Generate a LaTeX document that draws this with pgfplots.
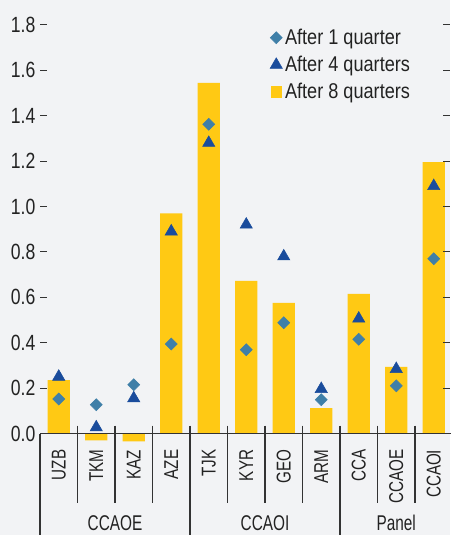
\documentclass[border=0pt]{standalone}
\usepackage{pgfplots}
\pgfplotsset{compat=1.18}
\usetikzlibrary{backgrounds}
\usepackage{fontspec}
\setmainfont{Liberation Sans}[FakeStretch=0.8]
\newfontfamily\legfont{Liberation Sans}[FakeStretch=0.85]
\newfontfamily\capfont{Liberation Sans}[FakeStretch=0.76]
\newfontfamily\grpfont{Liberation Sans}[FakeStretch=0.72]
\definecolor{bg}{HTML}{F2F3F5}
\definecolor{barcol}{HTML}{FFC914}
\definecolor{diacol}{HTML}{3F7FA8}
\definecolor{tricol}{HTML}{1A4C9C}
\definecolor{txt}{HTML}{222222}
\definecolor{lin}{HTML}{333333}
\begin{document}
\begin{tikzpicture}
\begin{axis}[
  x=28.125pt, y=170.25pt,
  xmin=-0.5, xmax=10.5, ymin=0, ymax=1.9,
  clip=false,
  axis line style={draw=none},
  ytick={0,0.2,0.4,0.6,0.8,1.0,1.2,1.4,1.6,1.8},
  ytick pos=left,
  yticklabel style={font=\fontsize{16.5}{19}\selectfont, text=txt,
    /pgf/number format/.cd, fixed, fixed zerofill, precision=1, assume math mode=true},
  tick align=inside,
  major tick length=4.9pt,
  ytick style={draw=lin, line width=0.8pt},
  xtick={0,1,2,3,4,5,6,7,8,9,10},
  xticklabels={UZB,TKM,KAZ,AZE,TJK,KYR,GEO,ARM,CCA,CCAOE,CCAOI},
  xtick style={draw=none},
  xticklabel style={rotate=90, anchor=east, font=\capfont\fontsize{15}{17}\selectfont, text=txt, inner sep=0pt},
  xticklabel shift=12pt,
  legend style={at={(axis cs:5.63,1.795)}, anchor=north west, draw=none, fill=none,
    font=\legfont\fontsize{16}{19}\selectfont, text=txt, row sep=3.3pt, inner sep=0pt},
  legend cell align=left,
]
\addlegendimage{only marks, mark=square*, mark options={rotate=45, fill=diacol, draw=diacol}, mark size=3.2pt}
\addlegendentry{After 1 quarter}
\addlegendimage{only marks, mark=triangle*, mark options={fill=tricol, draw=tricol}, mark size=5.3pt}
\addlegendentry{After 4 quarters}
\addlegendimage{legend image code/.code={\fill[barcol] (0.3cm-4pt,-4pt) rectangle (0.3cm+4pt,4pt);}}
\addlegendentry{After 8 quarters}

\addplot[ybar, bar width=0.587, fill=barcol, draw=none, forget plot] coordinates {
(0,0.235) (1,-0.03) (2,-0.035) (3,0.97) (4,1.545) (5,0.672) (6,0.575) (7,0.112) (8,0.615) (9,0.294) (10,1.196)};
\addplot[only marks, mark=triangle*, mark options={fill=tricol, draw=tricol}, mark size=5.3pt, forget plot] coordinates {
(0,0.25) (1,0.027) (2,0.155) (3,0.89) (4,1.28) (5,0.92) (6,0.78) (7,0.196) (8,0.506) (9,0.284) (10,1.09)};
\addplot[only marks, mark=square*, mark options={rotate=45, fill=diacol, draw=diacol}, mark size=3.2pt, forget plot] coordinates {
(0,0.152) (1,0.127) (2,0.215) (3,0.394) (4,1.362) (5,0.369) (6,0.488) (7,0.149) (8,0.415) (9,0.21) (10,0.77)};

\draw[lin, line width=0.8pt] (axis cs:-0.5,0) -- (axis cs:10.5,0);
\pgfplotsinvokeforeach{0.2,0.4,0.6,0.8,1.0,1.2,1.4,1.6,1.8}{
  \draw[lin, line width=0.8pt] (axis cs:10.42,#1) -- ++(-4.9pt,0pt);
}
\pgfplotsinvokeforeach{0.5,1.5,2.5,4.5,5.5,6.5,8.5,9.5}{
  \draw[lin, line width=0.8pt] (axis cs:#1,0.035) -- (axis cs:#1,-0.306);
}
\pgfplotsinvokeforeach{3.5,7.5,10.5}{
  \draw[lin, line width=0.8pt] (axis cs:#1,0.035) -- (axis cs:#1,-0.4471);
}
\draw[lin, line width=0.8pt] (axis cs:-0.5,0) -- (axis cs:-0.5,-0.4471);
\node[font=\grpfont\fontsize{16}{19}\selectfont, text=txt] at (axis cs:1.5,-0.394) {CCAOE};
\node[font=\grpfont\fontsize{16}{19}\selectfont, text=txt] at (axis cs:5.5,-0.394) {CCAOI};
\node[font=\grpfont\fontsize{16}{19}\selectfont, text=txt] at (axis cs:9,-0.394) {Panel};
\coordinate (bbsw) at (axis cs:-1.5667,-0.4471);
\coordinate (bbne) at (axis cs:10.4333,1.9097);
\end{axis}
\pgfresetboundingbox
\path[use as bounding box] (bbsw) rectangle (bbne);
\begin{pgfonlayer}{background}
\fill[bg] (bbsw) rectangle (bbne);
\end{pgfonlayer}
\end{tikzpicture}
\end{document}
